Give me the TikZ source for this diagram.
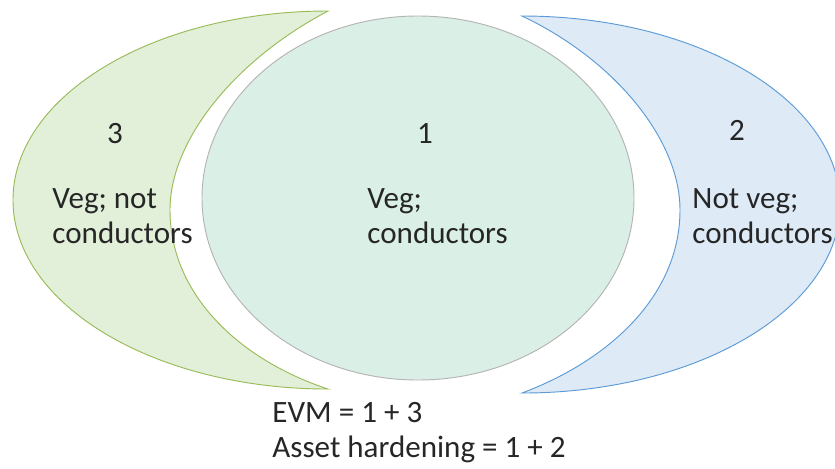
\documentclass[tikz,border=0pt]{standalone}
\usepackage{fontspec}
\setmainfont{Carlito}
\definecolor{vegfill}{HTML}{E2F0D9}
\definecolor{vegline}{HTML}{9BBB59}
\definecolor{bothfill}{HTML}{DAEFE6}
\definecolor{bothline}{HTML}{B4B4B4}
\definecolor{condfill}{HTML}{DEEBF7}
\definecolor{condline}{HTML}{5B9BD5}

\begin{document}
\begin{tikzpicture}
  [x=0.03cm,y=-0.03cm,line width=0.8pt,
   every node/.style={inner sep=0pt,text=black!85,
     font=\fontsize{26.5}{29.9}\selectfont},
   txt/.style={align=left,anchor=north west},
   num/.style={anchor=base}]
  \useasboundingbox (0,0) rectangle (835,468);

  % crescent 3: veg, not conductors
  \filldraw[fill=vegfill,draw=vegline] (328,11)
    arc[start angle=90,end angle=270,x radius=9.45cm,y radius=5.67cm]
    .. controls (240,360) and (170,295) .. (170,210)
    .. controls (170,140) and (235,60) .. (328,11) -- cycle;

  % ellipse 1: veg and conductors
  \filldraw[fill=bothfill,draw=bothline] (418,198)
    ellipse[x radius=6.48cm,y radius=5.46cm];

  % crescent 2: conductors, not veg
  \filldraw[fill=condfill,draw=condline] (522,16)
    arc[start angle=90,end angle=-90,x radius=9.54cm,y radius=5.655cm]
    .. controls (610,360) and (680,295) .. (680,210)
    .. controls (680,140) and (615,60) .. (522,16) -- cycle;

  \node[num] (n3) at (115,143) {3};
  \node[num] (n1) at (425,143) {1};
  \node[num] (n2) at (737,140) {2};

  \node[txt] (t3) at (52,188)  {Veg; not\\conductors};
  \node[txt] (t1) at (367,188) {Veg;\\conductors};
  \node[txt] (t2) at (692,188) {Not veg;\\conductors};

  \node[txt] (sum) at (272,402) {EVM = 1 + 3\\Asset hardening = 1 + 2};

\end{tikzpicture}
\end{document}
